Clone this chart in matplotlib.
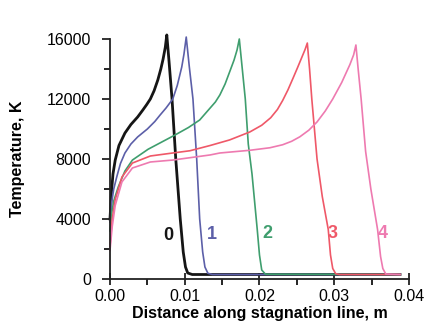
import matplotlib
matplotlib.use("Agg")
import matplotlib.pyplot as plt
from matplotlib.ticker import MultipleLocator

plt.rcParams['font.family'] = ['Liberation Sans', 'DejaVu Sans']

# Curve 0 (black)
x0 = [0, 0.0002, 0.0004, 0.0007, 0.0012, 0.002, 0.0028, 0.0037, 0.0044, 0.0049, 0.0054, 0.0059, 0.0064,
      0.0068, 0.0071, 0.0074, 0.0076,
      0.0079, 0.0083, 0.0088, 0.0094, 0.0098, 0.0101, 0.0104, 0.011, 0.0388]
t0 = [4000, 5800, 7000, 7930, 8900, 9730, 10300, 10800, 11270, 11620, 12000, 12550, 13270,
      14000, 14650, 15450, 16270,
      14500, 12000, 8000, 4000, 1800, 800, 400, 300, 300]
# Curve 1 (blue)
x1 = [0, 0.0002, 0.0005, 0.0009, 0.0014, 0.002, 0.0028, 0.0037, 0.005, 0.006, 0.0067, 0.0075, 0.0084,
      0.009, 0.0096, 0.0099, 0.0102,
      0.0106, 0.0111, 0.0116, 0.012, 0.0124, 0.0127, 0.0131, 0.0137, 0.0388]
t1 = [3800, 5000, 6000, 6800, 7700, 8400, 9000, 9470, 10000, 10500, 10930, 11400, 12000,
      12900, 14130, 15000, 16130,
      14200, 12000, 8000, 4000, 1800, 800, 380, 300, 300]
# Curve 2 (green)
x2 = [0, 0.0002, 0.0005, 0.0011, 0.002, 0.003, 0.0051, 0.0087, 0.0105, 0.012, 0.0127, 0.0134, 0.0141,
      0.0147, 0.0154, 0.0161, 0.0166, 0.017, 0.0173,
      0.0177, 0.0181, 0.0185, 0.019, 0.0197, 0.02, 0.0203, 0.0208, 0.0388]
t2 = [3200, 4300, 5200, 6130, 7200, 7930, 8650, 9600, 10100, 10600, 11000, 11400, 11800,
      12270, 13000, 13930, 14600, 15270, 16000,
      14000, 12000, 9000, 7000, 3300, 1600, 600, 320, 300]
# Curve 3 (red)
x3 = [0, 0.0003, 0.0007, 0.0016, 0.003, 0.0054, 0.0084, 0.0107, 0.0134, 0.016, 0.0187, 0.0203, 0.0215,
      0.0224, 0.0231, 0.0238, 0.0245, 0.0251, 0.0256, 0.0261, 0.0264,
      0.0267, 0.027, 0.0277, 0.0284, 0.0292, 0.0295, 0.0298, 0.0302, 0.0307, 0.0388]
t3 = [2200, 4000, 5300, 6800, 7730, 8200, 8400, 8550, 8900, 9270, 9800, 10250, 10750,
      11300, 11900, 12600, 13400, 14100, 14700, 15300, 15730,
      14000, 12000, 8000, 5500, 3300, 1600, 700, 350, 300, 300]
# Curve 4 (pink)
x4 = [0, 0.0003, 0.0007, 0.0016, 0.003, 0.0054, 0.0084, 0.0134, 0.0147, 0.0187, 0.0214, 0.0231, 0.0243,
      0.0254, 0.0266, 0.0277, 0.0288, 0.0298, 0.031, 0.0321, 0.0326, 0.0329,
      0.0332, 0.0336, 0.0342, 0.0349, 0.0358, 0.0362, 0.0365, 0.0369, 0.0388]
t4 = [1900, 3500, 4900, 6470, 7400, 7800, 7930, 8270, 8400, 8580, 8750, 8950, 9180,
      9480, 9920, 10470, 11200, 12000, 13100, 14300, 14950, 15600,
      14000, 12000, 8500, 6000, 3300, 1500, 700, 330, 300]

series = [(x0, t0), (x1, t1), (x2, t2), (x3, t3), (x4, t4)]
colors = ['#151515', '#5c5fa8', '#3f9e6e', '#ef5868', '#ee7ab0']
widths = [2.0, 1.2, 1.2, 1.2, 1.2]
labels = ['0', '1', '2', '3', '4']
label_x = [0.0078, 0.0136, 0.0210, 0.0298, 0.0365]
label_y = [2900, 2950, 3000, 3000, 3000]

fig = plt.figure(figsize=(4.25, 3.31), dpi=100)
ax = fig.add_axes([0.2588, 0.1571, 0.7035, 0.7251])

for (xs, ts), c, w in zip(series, colors, widths):
    ax.plot(xs, ts, color=c, lw=w, clip_on=False, solid_joinstyle='round')

for lab, lx, ly, c in zip(labels, label_x, label_y, colors):
    ax.text(lx, ly, lab, color=c, fontsize=13, fontweight='bold',
            ha='center', va='center')

ax.set_xlim(0, 0.04)
ax.set_ylim(0, 16000)
ax.set_xticks([0, 0.01, 0.02, 0.03, 0.04])
ax.set_xticklabels(['0.00', '0.01', '0.02', '0.03', '0.04'])
ax.set_yticks([0, 4000, 8000, 12000, 16000])
ax.set_yticklabels(['0', '4000', '8000', '12000', '16000'])
ax.xaxis.set_minor_locator(MultipleLocator(0.005))
ax.yaxis.set_minor_locator(MultipleLocator(2000))

for s in ['top', 'right']:
    ax.spines[s].set_visible(False)
for s in ['left', 'bottom']:
    ax.spines[s].set_linewidth(1.3)
    ax.spines[s].set_color('#222222')

ax.tick_params(axis='both', which='major', labelsize=11.5, width=1.3, color='#222222')
ax.tick_params(axis='x', which='major', direction='inout', length=9, pad=3)
ax.tick_params(axis='x', which='minor', direction='out', length=4, width=1.2)
ax.tick_params(axis='y', which='major', direction='out', length=6, pad=7.5)
ax.tick_params(axis='y', which='minor', direction='out', length=4, width=1.2)

ax.set_xlabel('Distance along stagnation line, m', fontsize=11.5, fontweight='bold', labelpad=1)
ax.set_ylabel('Temperature, K', fontsize=11.5, fontweight='bold', labelpad=16)

fig.savefig('out.png', dpi=100)
